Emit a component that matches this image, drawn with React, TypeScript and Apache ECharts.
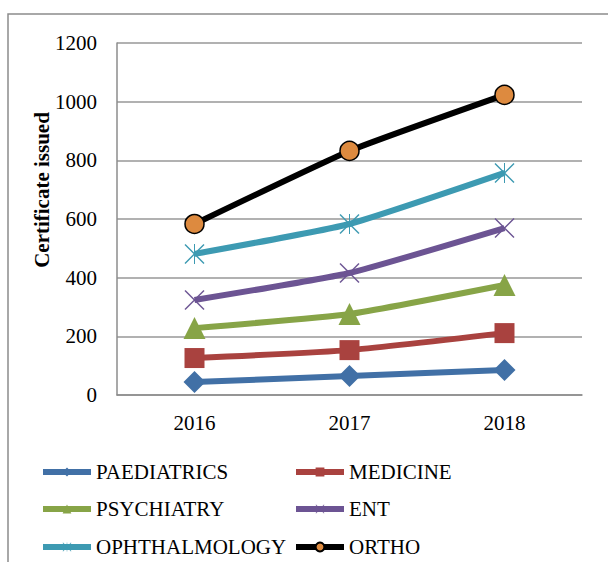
import React, { useEffect, useRef } from "react";
import * as echarts from "echarts";

const years = ["2016", "2017", "2018"];
const paediatrics = [44, 65, 85];
const medicine = [126, 153, 211];
const psychiatry = [228, 276, 375];
const ent = [324, 416, 569];
const ophthalmology = [481, 583, 757];
const ortho = [583, 832, 1023];

const FONT = "Liberation Serif";
const X_PATH = "path://M0,5 L5,0 L100,95 L95,100 Z M95,0 L100,5 L5,100 L0,95 Z";
const STAR_PATH = "path://M0,5 L5,0 L100,95 L95,100 Z M95,0 L100,5 L5,100 L0,95 Z M47.5,0 L52.5,0 L52.5,100 L47.5,100 Z";

export default function App() {
  const ref = useRef<HTMLDivElement>(null);
  useEffect(() => {
    if (!ref.current) return;
    const chart = echarts.init(ref.current, null, { renderer: "svg" });
    const seriesDefs = [
      { name: "PAEDIATRICS", data: paediatrics, color: "#4170a6", symbol: "diamond", size: 22, border: undefined },
      { name: "MEDICINE", data: medicine, color: "#a9423f", symbol: "rect", size: 20, border: undefined },
      { name: "PSYCHIATRY", data: psychiatry, color: "#87a447", symbol: "triangle", size: 22, border: undefined },
      { name: "ENT", data: ent, color: "#6c5493", symbol: X_PATH, size: 20, border: undefined },
      { name: "OPHTHALMOLOGY", data: ophthalmology, color: "#3d9ab2", symbol: STAR_PATH, size: 20, border: undefined },
      { name: "ORTHO", data: ortho, color: "#000000", symbol: "circle", size: 19, border: "#dd8a3f" },
    ];
    const legendPos = [
      { left: 40, row: 472 },
      { left: 293, row: 472 },
      { left: 40, row: 509 },
      { left: 293, row: 509 },
      { left: 40, row: 547 },
      { left: 293, row: 547 },
    ];
    chart.setOption({
      animation: false,
      backgroundColor: "#ffffff",
      textStyle: { fontFamily: FONT, color: "#000" },
      graphic: [
        {
          type: "rect",
          shape: { x: 8, y: 14, width: 800, height: 800 },
          style: { fill: "none", stroke: "#8c8c8c", lineWidth: 1.5 },
          silent: true,
        },
        {
          type: "text",
          x: 42,
          y: 190,
          rotation: Math.PI / 2,
          silent: true,
          style: {
            text: "Certificate issued",
            fontFamily: FONT,
            fontSize: 21,
            fontWeight: "bold",
            fill: "#000",
            align: "center",
            verticalAlign: "middle",
          },
        },
      ],
      legend: seriesDefs.map((s, i) => ({
        data: [s.name],
        left: legendPos[i].left,
        top: legendPos[i].row - 11,
        itemWidth: 48,
        itemHeight: 11,
        padding: 0,
        selectedMode: false,
        lineStyle: { width: 6 },
        textStyle: { fontFamily: FONT, fontSize: 21, color: "#000", lineHeight: 22 },
      })),
      grid: { left: 117, right: 26, top: 43, bottom: 167 },
      xAxis: {
        type: "category",
        data: years,
        boundaryGap: true,
        axisLine: { show: true, lineStyle: { color: "#8c8c8c", width: 1.5 } },
        axisTick: { show: false },
        axisLabel: { fontFamily: FONT, fontSize: 21, color: "#000", margin: 17 },
      },
      yAxis: {
        type: "value",
        min: 0,
        max: 1200,
        interval: 200,
        axisLine: { show: true, lineStyle: { color: "#8c8c8c", width: 1.5 } },
        axisTick: { show: false },
        splitLine: { show: true, lineStyle: { color: "#979797", width: 1.5 } },
        axisLabel: {
          fontFamily: FONT,
          fontSize: 21,
          color: "#000",
          margin: 20,
          formatter: (v: number) => String(v),
        },
      },
      series: seriesDefs.map((s) => ({
        name: s.name,
        type: "line",
        data: s.data,
        smooth: 0.15,
        symbol: s.symbol,
        symbolSize: s.size,
        lineStyle: { color: s.color, width: 6 },
        itemStyle: s.border
          ? { color: s.border, borderColor: "#000", borderWidth: 1.5 }
          : { color: s.color },
        color: s.color,
      })),
    });
    return () => chart.dispose();
  }, []);
  return (
    <div
      ref={ref}
      style={{ position: "fixed", left: 0, top: 0, width: 608, height: 562 }}
    />
  );
}
